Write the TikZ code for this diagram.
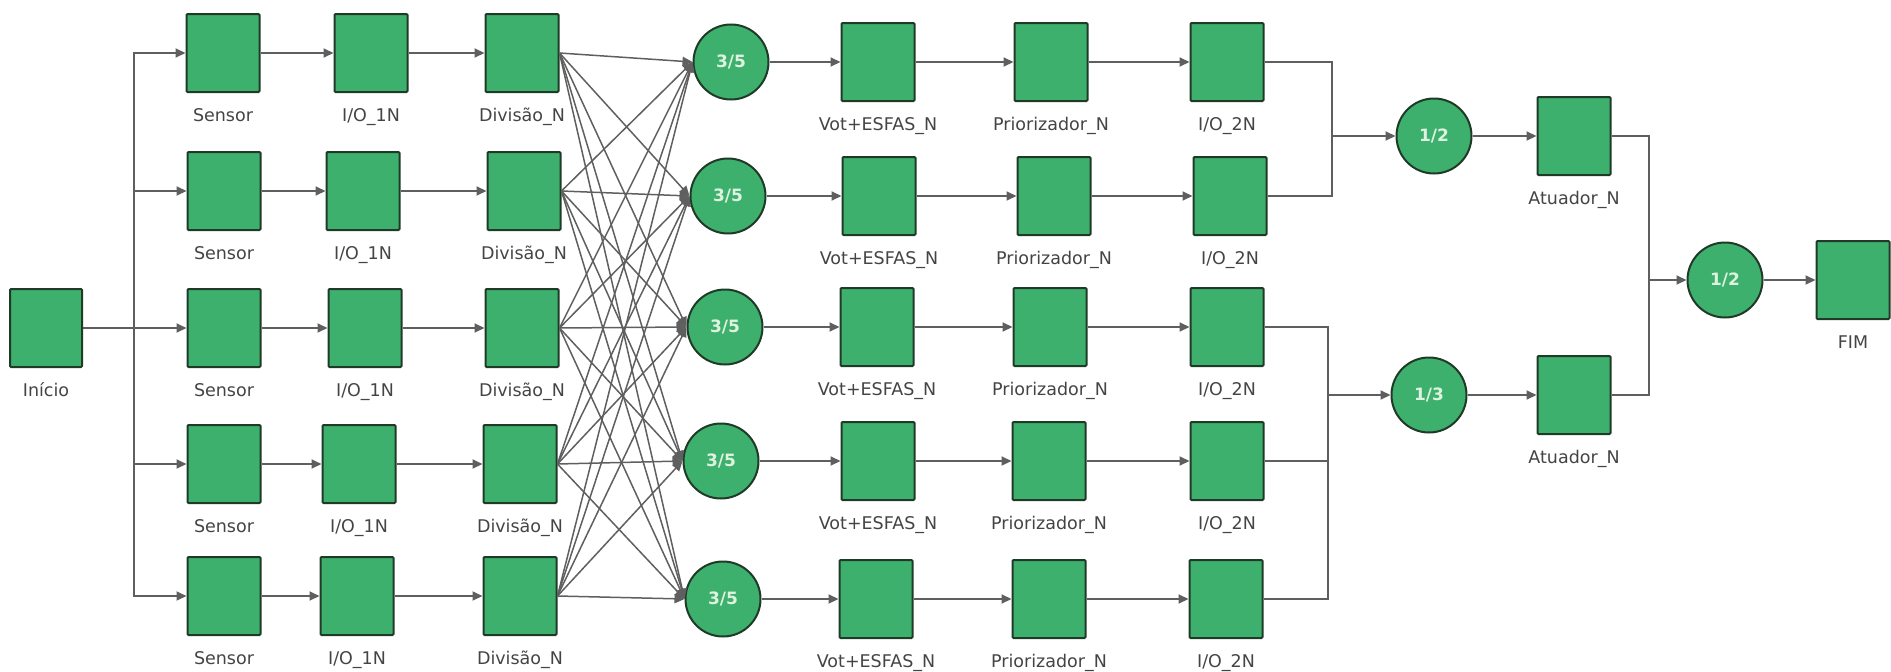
\documentclass[tikz,border=0pt]{standalone}
\usepackage{fontspec}
\setmainfont{DejaVu Sans}
\usetikzlibrary{arrows.meta}

\definecolor{blockgreen}{RGB}{60,176,108}
\definecolor{edgedark}{RGB}{32,58,40}
\definecolor{linegray}{RGB}{95,95,95}
\definecolor{labgray}{RGB}{68,68,68}
\definecolor{votetext}{RGB}{222,242,224}

\begin{document}
\begin{tikzpicture}[x=1pt,y=-1pt,
  blk/.style={draw=edgedark, line width=2pt, fill=blockgreen,
    minimum width=73pt, minimum height=78pt, inner sep=0pt, rounded corners=1pt},
  vote/.style={circle, draw=edgedark, line width=2pt, fill=blockgreen,
    minimum size=75pt, inner sep=0pt, text=votetext,
    font=\fontsize{17}{20}\selectfont\bfseries},
  lab/.style={text=labgray, font=\fontsize{17.5}{20}\selectfont,
    inner sep=0pt, anchor=base},
  link/.style={draw=linegray, line width=2pt},
  flow/.style={link, -{Triangle[length=10pt,width=9pt]}},
  cross/.style={draw=linegray, line width=1.5pt, -{Triangle[length=10pt,width=9pt]}},
]
\useasboundingbox (0,0) rectangle (1891,672);

% start block
\node[blk, minimum width=72pt] (b) at (46,328) {};
\node[lab] (lb) at (46,396) {Início};

% input chains: sensor, first I/O, division
\foreach \i/\y/\xs/\xio/\xd in {1/53/223/371/522, 2/191/224/363/524,
    3/328/224/365/522, 4/464/224/359/520, 5/596/224/357/520}{
  \node[blk] (s\i) at (\xs,\y) {};
  \node[lab] (ls\i) at (\xs,\y+68) {Sensor};
  \node[blk] (io\i) at (\xio,\y) {};
  \node[lab] (lio\i) at (\xio,\y+68) {I/O\_1N};
  \node[blk] (d\i) at (\xd,\y) {};
  \node[lab] (ld\i) at (\xd,\y+68) {Divisão\_N};
}

% voting chains: 3/5 voter, Vot+ESFAS, prioritiser, second I/O
\foreach \i/\y/\xc/\xv/\xp/\xo in {1/62/731/878/1051/1227, 2/196/728/879/1054/1230,
    3/327/725/877/1050/1227, 4/461/721/878/1049/1227, 5/599/723/876/1049/1226}{
  \node[vote] (c\i) at (\xc,\y) {3/5};
  \node[blk] (v\i) at (\xv,\y) {};
  \node[lab] (lv\i) at (\xv,\y+68) {Vot+ESFAS\_N};
  \node[blk] (p\i) at (\xp,\y) {};
  \node[lab] (lp\i) at (\xp,\y+68) {Priorizador\_N};
  \node[blk] (o\i) at (\xo,\y) {};
  \node[lab] (lo\i) at (\xo,\y+68) {I/O\_2N};
}

% output stage
\node[vote] (h1) at (1434,136) {1/2};
\node[blk] (a1) at (1574,136) {};
\node[lab] (la1) at (1574,204) {Atuador\_N};
\node[vote] (h2) at (1429,395) {1/3};
\node[blk] (a2) at (1574,395) {};
\node[lab] (la2) at (1574,463) {Atuador\_N};
\node[vote] (h3) at (1725,280) {1/2};
\node[blk] (f) at (1853,280) {};
\node[lab] (lf) at (1853,348) {FIM};

% junction points
\coordinate (sp) at (134,328);
\coordinate (m1) at (1332,136);
\coordinate (m2) at (1328,395);
\coordinate (m3) at (1649,280);

% start fan-out
\draw[link] (b.east) -- (sp);
\foreach \i in {1,...,5}{
  \draw[flow] (sp) |- (s\i.west);
  \draw[flow] (s\i.east) -- (io\i.west);
  \draw[flow] (io\i.east) -- (d\i.west);
  \draw[flow] (c\i.east) -- (v\i.west);
  \draw[flow] (v\i.east) -- (p\i.west);
  \draw[flow] (p\i.east) -- (o\i.west);
}

% every division feeds every voter
\foreach \i in {1,...,5}{
  \foreach \j in {1,...,5}{
    \draw[cross] (d\i.east) -- (c\j.west);
  }
}

% merging into the output voters
\draw[link] (o1.east) -| (m1);
\draw[link] (o2.east) -| (m1);
\draw[flow] (m1) -- (h1.west);
\draw[link] (o3.east) -| (m2);
\draw[link] (o4.east) -| (m2);
\draw[link] (o5.east) -| (m2);
\draw[flow] (m2) -- (h2.west);
\draw[flow] (h1.east) -- (a1.west);
\draw[flow] (h2.east) -- (a2.west);
\draw[link] (a1.east) -| (m3);
\draw[link] (a2.east) -| (m3);
\draw[flow] (m3) -- (h3.west);
\draw[flow] (h3.east) -- (f.west);
\end{tikzpicture}
\end{document}
